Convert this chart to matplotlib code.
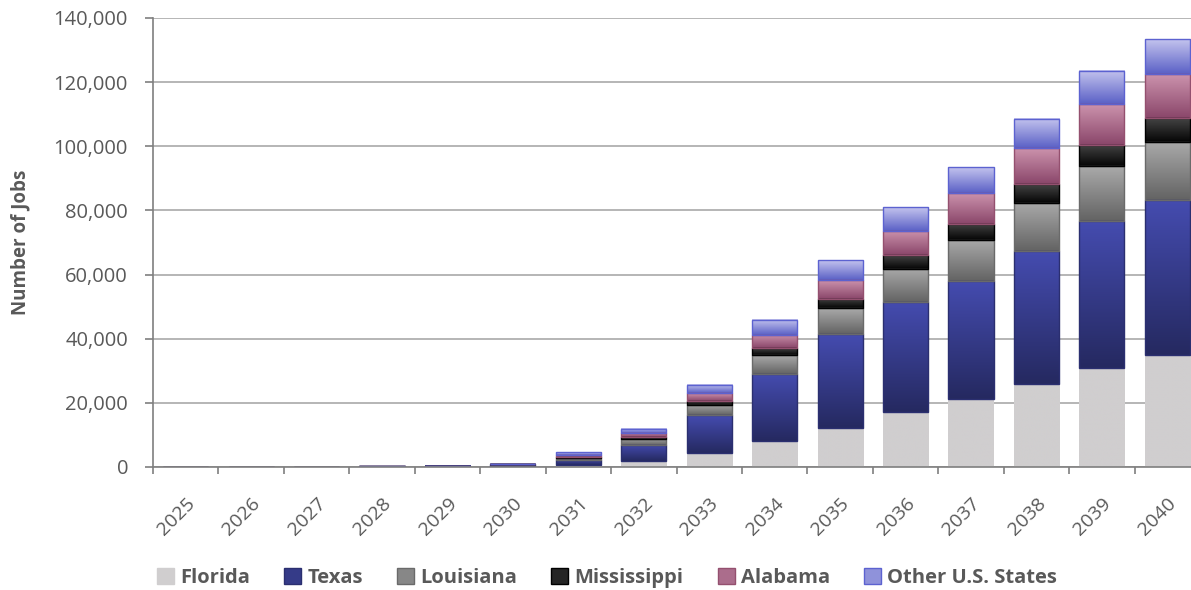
import matplotlib
matplotlib.use("Agg")
import matplotlib.pyplot as plt
import numpy as np
from matplotlib.colors import LinearSegmentedColormap
from matplotlib.patches import Patch

years = [str(y) for y in range(2025, 2041)]
florida = [0, 0, 0, 0, 0, 100, 500, 1900, 4300, 8100, 12200, 17000, 21200, 26000, 30900, 34800]
texas = [0, 0, 0, 300, 350, 800, 1700, 5000, 11800, 21000, 29200, 34300, 36800, 41400, 45900, 48400]
louisiana = [0, 0, 0, 0, 0, 50, 600, 1900, 3300, 5800, 8100, 10500, 12900, 15000, 17000, 18200]
mississippi = [0, 0, 0, 0, 0, 20, 400, 500, 1150, 2100, 2900, 4300, 5000, 5900, 6700, 7400]
alabama = [0, 0, 0, 0, 0, 30, 450, 1250, 2400, 4100, 5900, 7500, 9500, 11200, 12700, 13700]
other = [0, 0, 0, 0, 0, 50, 900, 1350, 2600, 4800, 6200, 7400, 8100, 9100, 10300, 10900]

series = [
    ("Florida", florida, "#d0cecf", "#d0cecf", None),
    ("Texas", texas, "#454cb0", "#252960", "#2b2f70"),
    ("Louisiana", louisiana, "#aaaaaa", "#636363", "#6a6a6a"),
    ("Mississippi", mississippi, "#444444", "#050505", "#000000"),
    ("Alabama", alabama, "#cc93ad", "#8a466a", "#94506f"),
    ("Other U.S. States", other, "#c4c4ee", "#5a60c6", "#5c62d0"),
]

plt.rcParams['font.family'] = ['Open Sans', 'DejaVu Sans']
grey = "#595959"

fig = plt.figure(figsize=(11.91, 5.9), dpi=100)
ax = fig.add_axes([153 / 1191, 1 - 467 / 590, (1200 - 153) / 1191, (467 - 18) / 590])

x = np.arange(len(years))
width = 0.69
bottom = np.zeros(len(years))
handles = []
grad = np.linspace(0, 1, 256).reshape(-1, 1)
for name, vals, top_c, bot_c, edge in series:
    vals = np.array(vals, dtype=float)
    bars = ax.bar(x, vals, width, bottom=bottom, facecolor="none",
                  edgecolor=edge if edge else "none", linewidth=1.0, zorder=4)
    cmap = LinearSegmentedColormap.from_list(name, [bot_c, top_c])
    for p, v in zip(bars.patches, vals):
        if v <= 0:
            continue
        x0, y0 = p.get_x(), p.get_y()
        ax.imshow(grad, extent=[x0, x0 + p.get_width(), y0, y0 + p.get_height()],
                  origin="lower", aspect="auto", cmap=cmap, zorder=3,
                  interpolation="bilinear")
    bottom += vals
    mid = LinearSegmentedColormap.from_list(name + "m", [bot_c, top_c])(0.5)
    handles.append(Patch(facecolor=mid, edgecolor=edge if edge else mid, linewidth=1.0, label=name))

ax.set_xlim(-0.5, 15.5)
ax.set_ylim(0, 140000)
ax.set_yticks(np.arange(0, 140001, 20000))
ax.set_yticklabels([f"{v:,}" for v in range(0, 140001, 20000)])
ax.set_xticks(x)
ax.set_xticklabels(years, rotation=45, ha="right", rotation_mode="anchor")
ax.set_xticks(np.arange(-0.5, 16, 1), minor=True)
ax.tick_params(axis="x", which="major", length=0, pad=20, labelsize=14, labelcolor=grey)
ax.tick_params(axis="x", which="minor", length=5, width=1.2, color="#7f7f7f")
ax.tick_params(axis="y", length=6, width=1.2, color="#7f7f7f", labelsize=14.5, labelcolor=grey, pad=12)
ax.yaxis.grid(True, color="#a9a9a9", linewidth=1.2, zorder=0)
ax.set_axisbelow(True)
for s in ["top", "right"]:
    ax.spines[s].set_visible(False)
for s in ["left", "bottom"]:
    ax.spines[s].set_color("#7f7f7f")
    ax.spines[s].set_linewidth(1.2)
    ax.spines[s].set_zorder(5)

fig.text(20 / 1191, 1 - 242 / 590, "Number of Jobs", rotation=90, ha="center", va="center",
         fontsize=13.5, fontweight="bold", color=grey)

fig.legend(handles=handles, loc="center", bbox_to_anchor=(607 / 1191, 1 - 578 / 590), ncol=6,
           frameon=False, handlelength=0.85, handleheight=0.85, handletextpad=0.3,
           columnspacing=1.7,
           prop={"family": ["Open Sans", "DejaVu Sans"], "weight": "bold", "size": 14.5},
           labelcolor=grey)

fig.savefig("out.png", dpi=100)
